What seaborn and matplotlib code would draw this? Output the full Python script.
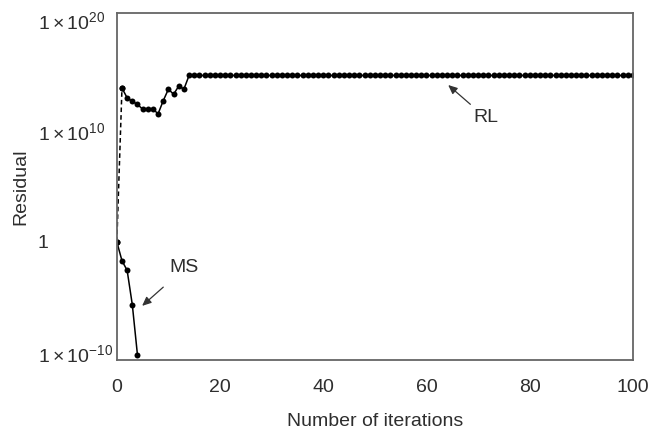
import numpy as np
import pandas as pd
import matplotlib
matplotlib.use("Agg")
import matplotlib.pyplot as plt
import seaborn as sns

# Residual history (log10 of the residual) per iteration
ms_iter = [0, 1, 2, 3, 4]
ms_log_res = [0.0, -1.7, -2.57, -5.66, -10.2]

rl_iter_start = list(range(0, 14))
rl_log_start = [0.0, 13.87, 12.98, 12.66, 12.4, 11.96, 12.0, 11.96, 11.55,
                12.73, 13.77, 13.3, 14.05, 13.77]
rl_plateau_iter = list(range(14, 101))
rl_plateau_log = [15.0] * len(rl_plateau_iter)

y_ticks = [1e-10, 1.0, 1e10, 1e20]
y_tick_labels = [r"$\mathregular{1\times10^{-10}}$", "1",
                 r"$\mathregular{1\times10^{10}}$",
                 r"$\mathregular{1\times10^{20}}$"]
x_ticks = [0, 20, 40, 60, 80, 100]

sns.set_theme(style="white")
plt.rcParams["font.family"] = ["Liberation Sans", "DejaVu Sans"]
plt.rcParams["mathtext.fontset"] = "custom"
plt.rcParams["mathtext.rm"] = "Liberation Sans"
plt.rcParams["mathtext.it"] = "Liberation Sans:italic"

rl_iter = rl_iter_start + rl_plateau_iter
rl_res = [10 ** v for v in rl_log_start + rl_plateau_log]
ms_res = [10 ** v for v in ms_log_res]

rl_df = pd.DataFrame({"iteration": rl_iter[1:], "residual": rl_res[1:]})
rl_jump = pd.DataFrame({"iteration": rl_iter[:2], "residual": rl_res[:2]})
ms_df = pd.DataFrame({"iteration": ms_iter, "residual": ms_res})

fs = 14
txt_color = "#2e2e2e"

fig = plt.figure(figsize=(6.6, 4.34), dpi=100)
ax = fig.add_axes([0.177, 0.171, 0.782, 0.799])

line_kw = dict(color="black", linewidth=1.1, marker="o", markersize=4.3,
               markeredgewidth=0, markerfacecolor="black")
sns.lineplot(data=rl_jump, x="iteration", y="residual", ax=ax,
             linestyle=(0, (3, 2)), **line_kw)
sns.lineplot(data=rl_df, x="iteration", y="residual", ax=ax, **line_kw)
sns.lineplot(data=ms_df, x="iteration", y="residual", ax=ax, **line_kw)

ax.set_yscale("log")
ax.set_xlim(0, 100)
ax.set_ylim(10 ** -10.63, 10 ** 20.63)
ax.set_yticks(y_ticks)
ax.set_yticklabels(y_tick_labels)
ax.minorticks_off()
ax.set_xticks(x_ticks)
ax.tick_params(axis="both", length=0, labelsize=fs, colors=txt_color)
ax.tick_params(axis="x", pad=14)
# y tick labels are left-aligned in a column to the left of the axis
ax.tick_params(axis="y", pad=57)
for lab in ax.get_yticklabels():
    lab.set_horizontalalignment("left")

ax.set_xlabel("Number of iterations", fontsize=fs, color=txt_color, labelpad=12)
ax.set_ylabel("Residual", fontsize=fs, color=txt_color, labelpad=6)

for side in ax.spines.values():
    side.set_color("#666666")
    side.set_linewidth(1.3)

arrow = dict(arrowstyle="-|>,head_length=0.45,head_width=0.2", color="#333333",
             linewidth=0.9, shrinkA=0, shrinkB=0)
ax.annotate("", xy=(64.2, 10 ** 14.14), xytext=(68.5, 10 ** 12.4),
            arrowprops=arrow)
ax.text(71.6, 10 ** 11.17, "RL", fontsize=fs, color=txt_color,
        ha="center", va="center")
ax.annotate("", xy=(4.9, 10 ** -5.77), xytext=(9.0, 10 ** -4.08),
            arrowprops=arrow)
ax.text(13.0, 10 ** -2.34, "MS", fontsize=fs, color=txt_color,
        ha="center", va="center")

fig.savefig("out.png", dpi=100)
